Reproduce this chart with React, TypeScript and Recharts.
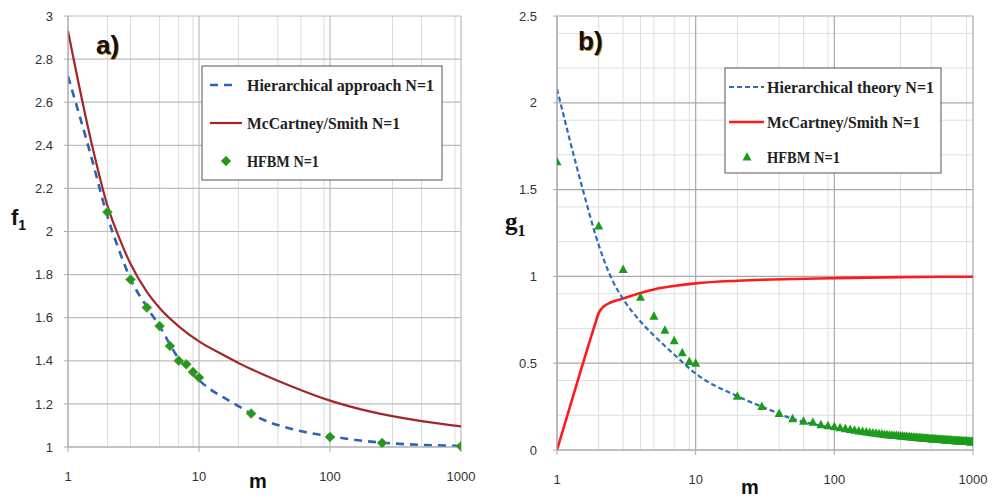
import React from "react";
import {
  ComposedChart,
  Line,
  Scatter,
  XAxis,
  YAxis,
  CartesianGrid,
} from "recharts";

// ---- panel a) f1 ----
const mHierF = [1, 1.5, 2, 2.5, 3, 4, 5, 7, 10, 20, 30, 50, 100, 250, 500, 1000];
const hierF = [2.72, 2.35, 2.07, 1.9, 1.78, 1.65, 1.56, 1.41, 1.31, 1.19, 1.13, 1.085, 1.05, 1.02, 1.01, 1.005];
const mMcF = [1, 1.5, 2, 2.5, 3, 4, 5, 7, 10, 15, 20, 30, 50, 100, 200, 500, 1000];
const mcF = [2.93, 2.42, 2.12, 1.96, 1.85, 1.72, 1.645, 1.56, 1.49, 1.43, 1.39, 1.34, 1.283, 1.215, 1.165, 1.12, 1.096];
const mHfbmF = [2, 3, 4, 5, 6, 7, 8, 9, 10, 25, 100, 250, 1000];
const hfbmF = [2.09, 1.777, 1.647, 1.561, 1.469, 1.4, 1.384, 1.348, 1.322, 1.155, 1.046, 1.019, 1.003];

// ---- panel b) g1 ----
const mHierG = [1, 1.5, 2, 2.5, 3, 4, 5, 7, 10, 20, 30, 50, 100, 200, 500, 1000];
const hierG = [2.08, 1.53, 1.18, 0.98, 0.87, 0.74, 0.66, 0.55, 0.44, 0.31, 0.25, 0.18, 0.125, 0.09, 0.062, 0.048];
const mMcG = [1, 1.5, 1.9, 2, 2.1, 2.2, 2.4, 2.7, 3, 4, 5, 7, 10, 20, 50, 100, 300, 1000];
const mcG = [0, 0.47, 0.735, 0.79, 0.815, 0.83, 0.848, 0.862, 0.873, 0.905, 0.925, 0.945, 0.96, 0.975, 0.985, 0.99, 0.996, 0.998];
const hfbmGPairs: [number, number][] = [
  [1, 1.66], [2, 1.29], [3, 1.04], [4, 0.88], [5, 0.77], [6, 0.69], [7, 0.63], [8, 0.56], [9, 0.51], [10, 0.5],
  [20, 0.31], [30, 0.25], [40, 0.21], [50, 0.18], [60, 0.165], [70, 0.16], [80, 0.145], [90, 0.14], [100, 0.134],
  [110, 0.128], [120, 0.123], [130, 0.118], [140, 0.114], [150, 0.11], [160, 0.107], [170, 0.104], [180, 0.101], [190, 0.098], [200, 0.096],
  [210, 0.094], [220, 0.092], [230, 0.09], [240, 0.088], [250, 0.087], [260, 0.085], [270, 0.084], [280, 0.083], [290, 0.082], [300, 0.081],
  [310, 0.08], [320, 0.079], [330, 0.078], [340, 0.077], [350, 0.076], [360, 0.075], [370, 0.074], [380, 0.073], [390, 0.072], [400, 0.071],
  [410, 0.07], [420, 0.07], [430, 0.069], [440, 0.068], [450, 0.068], [460, 0.067], [470, 0.066], [480, 0.066], [490, 0.065], [500, 0.065],
  [510, 0.064], [520, 0.064], [530, 0.063], [540, 0.063], [550, 0.062], [560, 0.062], [570, 0.061], [580, 0.061], [590, 0.06], [600, 0.06],
  [610, 0.059], [620, 0.059], [630, 0.058], [640, 0.058], [650, 0.058], [660, 0.057], [670, 0.057], [680, 0.056], [690, 0.056], [700, 0.056],
  [710, 0.055], [720, 0.055], [730, 0.055], [740, 0.054], [750, 0.054], [760, 0.054], [770, 0.053], [780, 0.053], [790, 0.053], [800, 0.052],
  [810, 0.052], [820, 0.052], [830, 0.051], [840, 0.051], [850, 0.051], [860, 0.051], [870, 0.05], [880, 0.05], [890, 0.05], [900, 0.05],
  [910, 0.049], [920, 0.049], [930, 0.049], [940, 0.049], [950, 0.048], [960, 0.048], [970, 0.048], [980, 0.048], [990, 0.048], [1000, 0.047],
];

const xTicks = [1, 10, 100, 1000];
const xMinor = [2, 3, 4, 5, 6, 7, 8, 9, 20, 30, 40, 50, 60, 70, 80, 90, 200, 300, 400, 500, 600, 700, 800, 900];
const fTicks = [1, 1.2, 1.4, 1.6, 1.8, 2, 2.2, 2.4, 2.6, 2.8, 3];
const gTicks = [0, 0.5, 1, 1.5, 2, 2.5];
const gMinor = [0.1, 0.2, 0.3, 0.4, 0.6, 0.7, 0.8, 0.9, 1.1, 1.2, 1.3, 1.4, 1.6, 1.7, 1.8, 1.9, 2.1, 2.2, 2.3, 2.4];

const zip = (xs: number[], ys: number[], key: string) => xs.map((m, i) => ({ m, [key]: ys[i] }));

const tickStyle = { fontFamily: "Liberation Sans, Arial, sans-serif", fontSize: 13, fill: "#333" };

const Diamond = (props: any) => {
  const { cx, cy } = props;
  if (cx == null || cy == null) return null;
  const r = 5;
  return (
    <polygon
      points={`${cx},${cy - r} ${cx + r},${cy} ${cx},${cy + r} ${cx - r},${cy}`}
      fill="#1f9a1f"
      stroke="#8aa040"
      strokeWidth={0.6}
    />
  );
};

const Triangle = (props: any) => {
  const { cx, cy } = props;
  if (cx == null || cy == null) return null;
  return (
    <polygon points={`${cx},${cy - 5} ${cx + 4.5},${cy + 3.5} ${cx - 4.5},${cy + 3.5}`} fill="#1c9c1c" />
  );
};

const abs = (l: number, t: number): React.CSSProperties => ({ position: "absolute", left: l, top: t });

export default function App() {
  const hierFData = zip(mHierF, hierF, "v");
  const mcFData = zip(mMcF, mcF, "v");
  const hfbmFData = zip(mHfbmF, hfbmF, "v");
  const hierGData = zip(mHierG, hierG, "v");
  const mcGData = zip(mMcG, mcG, "v");
  const hfbmGData = hfbmGPairs.map(([m, v]) => ({ m, v }));

  return (
    <div style={{ position: "absolute", left: 0, top: 0, width: 994, height: 501, background: "#fff", overflow: "hidden" }}>
      {/* panel a */}
      <div style={abs(0, 0)}>
        <ComposedChart width={494} height={501} margin={{ top: 16, right: 33, bottom: 0, left: 0 }}>
          <CartesianGrid stroke="#dcdcdc" strokeWidth={1} horizontal={false} verticalValues={xMinor} xAxisId="x" yAxisId="y" />
          <CartesianGrid stroke="#bdbdbd" strokeWidth={1.2} verticalValues={xTicks} horizontalValues={fTicks} xAxisId="x" yAxisId="y" />
          <XAxis
            xAxisId="x"
            dataKey="m"
            type="number"
            scale="log"
            domain={[1, 1000]}
            ticks={xTicks}
            allowDataOverflow
            height={54}
            tick={tickStyle}
            tickSize={5}
            tickMargin={20}
            stroke="#aaa"
          />
          <YAxis
            yAxisId="y"
            type="number"
            domain={[1, 3]}
            ticks={fTicks}
            width={68}
            tick={tickStyle}
            tickSize={4}
            tickMargin={11}
            stroke="#aaa"
          />
          <Line xAxisId="x" yAxisId="y" data={mcFData} dataKey="v" type="monotone" stroke="#a3262a" strokeWidth={2.2} dot={false} isAnimationActive={false} />
          <Line xAxisId="x" yAxisId="y" data={hierFData} dataKey="v" type="monotone" stroke="#2d63b4" strokeWidth={2.6} strokeDasharray="8 6" dot={false} isAnimationActive={false} />
          <Scatter xAxisId="x" yAxisId="y" data={hfbmFData} dataKey="v" shape={<Diamond />} isAnimationActive={false} />
        </ComposedChart>
      </div>

      {/* panel b */}
      <div style={abs(494, 0)}>
        <ComposedChart width={500} height={501} margin={{ top: 16, right: 21, bottom: 0, left: 0 }}>
          <CartesianGrid stroke="#dedede" strokeWidth={1} verticalValues={xMinor} horizontalValues={gMinor} xAxisId="x" yAxisId="y" />
          <CartesianGrid stroke="#a8a8a8" strokeWidth={1.2} verticalValues={xTicks} horizontalValues={gTicks} xAxisId="x" yAxisId="y" />
          <XAxis
            xAxisId="x"
            dataKey="m"
            type="number"
            scale="log"
            domain={[1, 1000]}
            ticks={xTicks}
            allowDataOverflow
            height={51}
            tick={tickStyle}
            tickSize={5}
            tickMargin={20}
            stroke="#aaa"
          />
          <YAxis
            yAxisId="y"
            type="number"
            domain={[0, 2.5]}
            ticks={gTicks}
            width={63}
            tick={tickStyle}
            tickSize={4}
            tickMargin={16}
            stroke="#aaa"
          />
          <Line xAxisId="x" yAxisId="y" data={mcGData} dataKey="v" type="monotone" stroke="#ff1a1a" strokeWidth={2.6} dot={false} isAnimationActive={false} />
          <Line xAxisId="x" yAxisId="y" data={hierGData} dataKey="v" type="monotone" stroke="#2f6cb8" strokeWidth={2.2} strokeDasharray="5 3" dot={false} isAnimationActive={false} />
          <Scatter xAxisId="x" yAxisId="y" data={hfbmGData} dataKey="v" shape={<Triangle />} isAnimationActive={false} />
        </ComposedChart>
      </div>

      {/* axis titles and panel letters */}
      <div style={{ ...abs(11, 205), fontFamily: "Liberation Sans, Arial", fontWeight: 700, fontSize: 22, color: "#111" }}>
        f<sub style={{ fontSize: 14 }}>1</sub>
      </div>
      <div style={{ ...abs(505, 208), fontFamily: "Liberation Serif, serif", fontWeight: 700, fontSize: 25, color: "#111" }}>
        g<sub style={{ fontSize: 16 }}>1</sub>
      </div>
      <div style={{ ...abs(249, 470), fontFamily: "Liberation Sans, Arial", fontWeight: 700, fontSize: 20, color: "#111" }}>m</div>
      <div style={{ ...abs(741, 476), fontFamily: "Liberation Sans, Arial", fontWeight: 700, fontSize: 20, color: "#111" }}>m</div>
      <div style={{ ...abs(96, 30), fontFamily: "Liberation Sans, Arial", fontWeight: 700, fontSize: 26, color: "#111", textShadow: "1px 1px 0 #d88a1c" }}>a)</div>
      <div style={{ ...abs(578, 26), fontFamily: "Liberation Sans, Arial", fontWeight: 700, fontSize: 26, color: "#111", textShadow: "1px 1px 0 #d88a1c" }}>b)</div>

      {/* legends */}
      <svg width={994} height={501} style={{ position: "absolute", left: 0, top: 0, pointerEvents: "none" }}>
        <g fontFamily="Liberation Serif, serif" fontWeight={700} fontSize={17} fill="#222">
          <rect x={202} y={66} width={240} height={114} fill="#fff" stroke="#555" strokeWidth={1} />
          <line x1={210} y1={85} x2={238} y2={85} stroke="#2d63b4" strokeWidth={2.6} strokeDasharray="8 6" />
          <text x={247} y={91} textLength={187} lengthAdjust="spacingAndGlyphs">Hierarchical approach N=1</text>
          <line x1={210} y1={123} x2={242} y2={123} stroke="#a3262a" strokeWidth={2.2} />
          <text x={247} y={129} textLength={153} lengthAdjust="spacingAndGlyphs">McCartney/Smith N=1</text>
          <Diamond cx={226} cy={161} />
          <text x={247} y={167} textLength={72} lengthAdjust="spacingAndGlyphs">HFBM N=1</text>

          <rect x={725} y={68} width={216} height={105} fill="#fff" stroke="#555" strokeWidth={1} />
          <line x1={729} y1={87} x2={764} y2={87} stroke="#2f6cb8" strokeWidth={2.2} strokeDasharray="5 3" />
          <text x={767} y={93} textLength={167} lengthAdjust="spacingAndGlyphs">Hierarchical theory N=1</text>
          <line x1={729} y1={122} x2={764} y2={122} stroke="#ff1a1a" strokeWidth={2.6} />
          <text x={767} y={128} textLength={153} lengthAdjust="spacingAndGlyphs">McCartney/Smith N=1</text>
          <Triangle cx={747} cy={157} />
          <text x={767} y={163} textLength={73} lengthAdjust="spacingAndGlyphs">HFBM N=1</text>
        </g>
      </svg>
    </div>
  );
}
